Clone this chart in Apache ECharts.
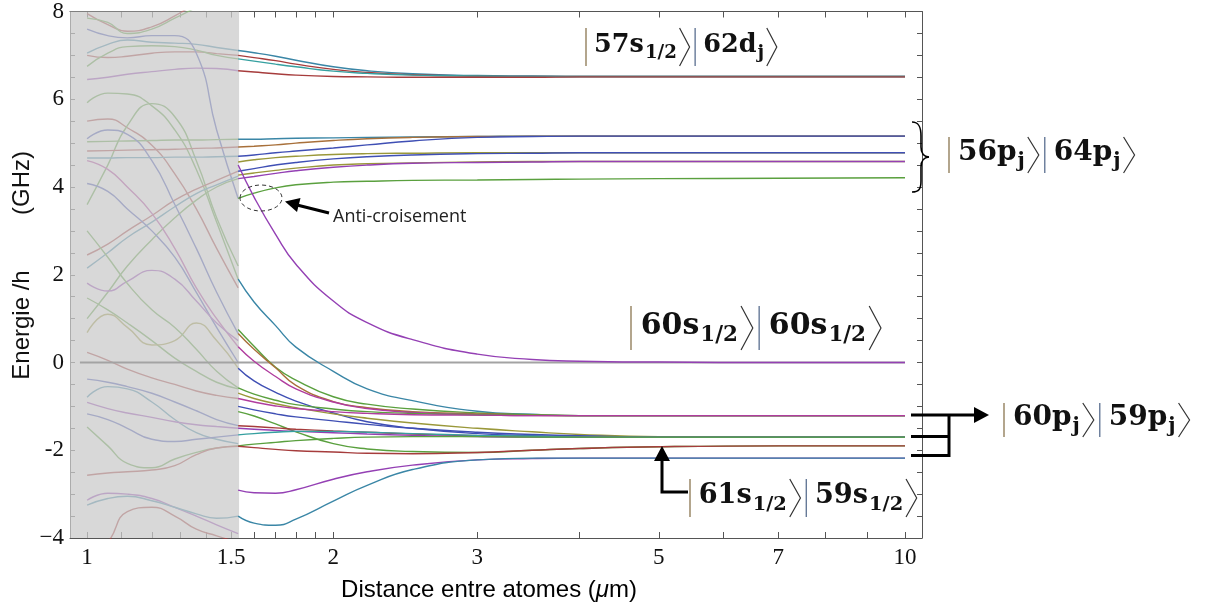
<!DOCTYPE html>
<html><head><meta charset="utf-8">
<script src="https://cdn.jsdelivr.net/npm/echarts@6/dist/echarts.min.js"></script>
<style>html,body{margin:0;padding:0;background:#fff}#c{width:1208px;height:608px}</style>
</head><body><div id="c"></div>
<script>
// ---------- DATA ----------
const xMin = 0.953, xMax = 10.49;            // µm (axis extent, log scale)
const shadedUpTo = 1.534;                    // grey zone limit (µm)
const xTickValues = [1, 1.5, 2, 3, 5, 7, 10];
const xTickLabels = ['1', '1.5', '2', '3', '5', '7', '10'];
const xMinorTicks = [1, 1.1, 1.2, 1.3, 1.4, 1.5, 1.6, 1.7, 1.8, 1.9, 2, 3, 4, 5, 6, 7, 8, 9, 10];
const yTickValues = [-4, -2, 0, 2, 4, 6, 8];
const yTickLabels = ['\u22124', '-2', '0', '2', '4', '6', '8'];

// white zone: common abscissae (µm)
const distances = [1.53, 1.6, 1.7, 1.8, 2.0, 2.2, 2.5, 3.0, 3.5, 4.0, 5.0, 7.0, 10.0];

// |57s1/2>|62dj> manifold (GHz)
const curves57s62d = [
  [7.11, 7.06, 6.98, 6.89, 6.74, 6.65, 6.58, 6.54, 6.53, 6.52, 6.52, 6.52, 6.52],
  [7.00, 6.95, 6.88, 6.80, 6.68, 6.61, 6.56, 6.53, 6.52, 6.52, 6.52, 6.52, 6.52],
  [6.92, 6.87, 6.80, 6.74, 6.64, 6.59, 6.55, 6.53, 6.52, 6.52, 6.52, 6.52, 6.52],
  [6.65, 6.62, 6.58, 6.55, 6.52, 6.51, 6.50, 6.50, 6.50, 6.51, 6.51, 6.51, 6.51]
];
// |56pj>|64pj> manifold
const curves56p64p = [
  [5.09, 5.09, 5.10, 5.11, 5.12, 5.13, 5.14, 5.15, 5.16, 5.16, 5.16, 5.16, 5.16],
  [4.91, 4.93, 4.96, 5.00, 5.06, 5.10, 5.13, 5.15, 5.16, 5.16, 5.16, 5.16, 5.16],
  [4.70, 4.73, 4.78, 4.82, 4.89, 4.96, 5.05, 5.13, 5.15, 5.16, 5.16, 5.16, 5.16],
  [4.57, 4.62, 4.67, 4.70, 4.74, 4.76, 4.77, 4.78, 4.78, 4.78, 4.78, 4.78, 4.78],
  [4.36, 4.42, 4.50, 4.56, 4.64, 4.69, 4.73, 4.76, 4.77, 4.78, 4.78, 4.78, 4.78],
  [4.27, 4.32, 4.38, 4.43, 4.50, 4.53, 4.55, 4.57, 4.58, 4.58, 4.58, 4.58, 4.58],
  [4.19, 4.24, 4.31, 4.37, 4.45, 4.50, 4.54, 4.56, 4.57, 4.58, 4.58, 4.58, 4.58],
  [3.74, 3.86, 3.98, 4.05, 4.11, 4.13, 4.15, 4.16, 4.17, 4.18, 4.19, 4.20, 4.21]
];
// |60s1/2>|60s1/2>
const curve60s60s = [4.50, 3.77, 2.92, 2.24, 1.40, 0.91, 0.52, 0.19, 0.07, 0.03, 0.01, 0.00, 0.00];
// |60pj>|59pj> manifold
const curves60p59p = [
  [1.90, 1.38, 0.84, 0.35, -0.20, -0.60, -0.87, -1.11, -1.18, -1.21, -1.21, -1.21, -1.21],
  [0.75, 0.37, -0.11, -0.40, -0.78, -0.95, -1.06, -1.15, -1.19, -1.21, -1.21, -1.21, -1.21],
  [0.66, 0.30, -0.12, -0.52, -0.89, -1.03, -1.12, -1.17, -1.20, -1.21, -1.21, -1.21, -1.21],
  [0.36, 0.03, -0.32, -0.60, -0.90, -1.05, -1.14, -1.19, -1.21, -1.21, -1.21, -1.21, -1.21],
  [-0.13, -0.42, -0.68, -0.88, -1.15, -1.35, -1.50, -1.62, -1.67, -1.69, -1.70, -1.70, -1.70],
  [-0.58, -0.72, -0.86, -0.96, -1.06, -1.12, -1.16, -1.19, -1.20, -1.21, -1.21, -1.21, -1.21],
  [-0.70, -0.82, -0.94, -1.03, -1.17, -1.27, -1.38, -1.50, -1.58, -1.64, -1.69, -1.70, -1.70],
  [-0.82, -0.90, -0.99, -1.05, -1.12, -1.16, -1.19, -1.20, -1.21, -1.21, -1.21, -1.21, -1.21],
  [-1.00, -1.08, -1.17, -1.24, -1.33, -1.41, -1.50, -1.59, -1.64, -1.67, -1.70, -1.70, -1.70],
  [-1.12, -1.22, -1.40, -1.58, -1.85, -1.97, -2.03, -2.05, -2.00, -1.96, -1.92, -1.90, -1.90],
  [-1.44, -1.46, -1.49, -1.52, -1.56, -1.59, -1.63, -1.67, -1.69, -1.70, -1.70, -1.70, -1.70],
  [-1.50, -1.52, -1.55, -1.57, -1.60, -1.63, -1.66, -1.69, -1.70, -1.70, -1.70, -1.70, -1.70],
  [-1.65, -1.62, -1.59, -1.57, -1.57, -1.59, -1.62, -1.66, -1.68, -1.70, -1.70, -1.70, -1.70],
  [-1.90, -1.86, -1.82, -1.78, -1.73, -1.70, -1.69, -1.69, -1.70, -1.70, -1.70, -1.70, -1.70],
  [-1.91, -1.94, -1.98, -2.01, -2.04, -2.07, -2.08, -2.05, -2.00, -1.96, -1.92, -1.90, -1.90]
];
// |61s1/2>|59s1/2>
const curves61s59s = [
  [-2.91, -2.97, -2.98, -2.90, -2.66, -2.49, -2.34, -2.22, -2.19, -2.18, -2.18, -2.18, -2.18],
  [-3.50, -3.66, -3.71, -3.57, -3.16, -2.80, -2.44, -2.22, -2.18, -2.18, -2.18, -2.18, -2.18]
];

// grey zone (short distances)
const grayDistances = [1.0, 1.06, 1.12, 1.2, 1.28, 1.36, 1.44, 1.53];
const grayCurves = [
  [6.45, 6.50, 6.57, 6.63, 6.68, 6.71, 6.70, 6.65],
  [7.05, 7.25, 7.35, 7.30, 7.28, 7.25, 7.18, 7.11],
  [7.00, 6.95, 6.98, 7.05, 7.08, 7.08, 7.04, 7.00],
  [6.75, 7.05, 7.20, 7.22, 7.20, 7.12, 7.00, 6.92],
  [7.95, 7.70, 7.55, 7.65, 7.90, 8.20, 8.50, 8.80],
  [7.85, 7.75, 7.50, 7.60, 7.85, 8.10, 8.40, 8.70],
  [7.60, 7.45, 7.40, 7.45, 7.45, 7.05, 5.30, 3.74],
  [5.92, 6.14, 6.12, 5.85, 5.30, 4.40, 3.20, 1.90],
  [5.50, 5.55, 5.35, 4.95, 4.30, 3.50, 2.60, 1.70],
  [3.60, 4.50, 5.40, 5.90, 5.60, 4.60, 3.30, 2.20],
  [5.03, 5.04, 5.05, 5.06, 5.07, 5.07, 5.08, 5.09],
  [4.82, 4.83, 4.84, 4.85, 4.86, 4.88, 4.89, 4.91],
  [4.66, 4.66, 4.67, 4.67, 4.68, 4.68, 4.69, 4.70],
  [2.45, 2.70, 3.00, 3.35, 3.70, 3.95, 4.15, 4.36],
  [2.15, 2.50, 2.85, 3.20, 3.55, 3.85, 4.05, 4.25],
  [1.00, 1.60, 2.20, 2.80, 3.30, 3.70, 4.00, 4.19],
  [4.08, 3.90, 3.50, 3.00, 2.40, 1.60, 0.80, 0.00],
  [4.60, 4.40, 4.00, 3.40, 2.60, 1.70, 1.00, 0.36],
  [5.10, 5.30, 5.20, 4.60, 3.60, 2.60, 1.60, 0.66],
  [1.81, 1.63, 1.85, 2.10, 1.90, 1.40, 0.90, 0.50],
  [1.47, 1.20, 0.90, 0.50, 0.10, -0.20, -0.45, -0.60],
  [0.68, 1.10, 0.80, 0.40, 0.50, 0.90, 0.50, -0.13],
  [0.23, 0.05, -0.15, -0.35, -0.50, -0.65, -0.75, -0.82],
  [-0.38, -0.45, -0.55, -0.70, -0.90, -1.10, -1.30, -1.44],
  [-0.79, -0.55, -0.60, -0.90, -1.30, -1.60, -1.75, -1.85],
  [-0.91, -1.05, -1.15, -1.25, -1.35, -1.42, -1.46, -1.50],
  [-1.17, -1.30, -1.50, -1.75, -1.80, -1.75, -1.70, -1.65],
  [-1.47, -1.90, -2.30, -2.40, -2.20, -2.05, -1.95, -1.90],
  [-2.57, -2.52, -2.49, -2.45, -2.35, -2.10, -1.95, -1.91],
  [-3.14, -2.98, -3.00, -3.10, -3.30, -3.50, -3.70, -3.90],
  [-3.25, -3.10, -3.05, -3.15, -3.30, -3.45, -3.55, -3.50],
  [-4.50, -4.10, -3.40, -3.30, -3.50, -3.80, -3.95, -4.10],
  [3.00, 2.40, 1.80, 1.20, 0.80, 0.30, -0.20, -0.58]
];
const zeroLine = [0.98, 10];

// state labels (text pieces)
const ket57s62d = [['57s', '1/2'], ['62d', 'j']];
const ket56p64p = [['56p', 'j'], ['64p', 'j']];
const ket60s60s = [['60s', '1/2'], ['60s', '1/2']];
const ket60p59p = [['60p', 'j'], ['59p', 'j']];
const ket61s59s = [['61s', '1/2'], ['59s', '1/2']];

// ---------- STYLES ----------
const C = {teal:'#3a86a6', red:'#a63c3c', green:'#5aa03e', purple:'#9440b4', blue:'#3f4fb4',
           olive:'#9a983a', brown:'#a8703a', magenta:'#b03c9e', cyan:'#36a0a0'};
const colors57s62d = [C.teal, C.red, C.cyan, C.red];
const colors56p64p = [C.teal, C.brown, C.blue, C.olive, C.blue, C.olive, C.purple, C.green];
const color60s60s = C.purple;
const colors60p59p = [C.teal, C.green, C.brown, C.magenta, C.blue, C.green, C.olive, C.magenta,
                      C.blue, C.green, C.red, C.purple, C.cyan, C.green, C.red];
const colors61s59s = [C.purple, C.teal];
const grayColors = [C.purple, C.teal, C.red, C.green, C.red, C.green, C.blue, C.green, C.red, C.green,
  C.green, C.red, C.teal, C.red, C.teal, C.green, C.blue, C.magenta, C.blue, C.purple, C.green,
  C.olive, C.red, C.blue, C.teal, C.purple, C.blue, C.green, C.red, C.purple, C.teal, C.red, C.green];

const L = Math.log10;
function pts(xs, ys) { const out = []; xs.forEach((x, i) => { if (ys[i] != null) out.push([L(x), ys[i]]); }); return out; }
function lineS(xs, ys, color, z, w) {
  return {type:'line', data: pts(xs, ys), symbol:'none', smooth:0.5, clip:true, silent:true,
          animation:false, z: z, lineStyle:{color: color, width: w || 1.4}};
}

const series = [];
grayCurves.forEach((c, i) => series.push(lineS(grayDistances, c, grayColors[i], 1, 1.4)));
series.push({type:'line', data:[], silent:true, z:3, animation:false,
  markArea:{silent:true, z:3, itemStyle:{color:'rgba(203,203,203,0.74)'},
    data:[[{xAxis: L(xMin)}, {xAxis: L(shadedUpTo)}]]}});
series.push(lineS(zeroLine, [0, 0], '#a3a3a3', 4, 2));
curves57s62d.forEach((c, i) => series.push(lineS(distances, c, colors57s62d[i], 5)));
curves56p64p.forEach((c, i) => series.push(lineS(distances, c, colors56p64p[i], 5)));
series.push(lineS(distances, curve60s60s, color60s60s, 5));
curves60p59p.forEach((c, i) => series.push(lineS(distances, c, colors60p59p[i], 5)));
curves61s59s.forEach((c, i) => series.push(lineS(distances, c, colors61s59s[i], 5)));

function xLabel(v) {
  let best = 0, d = 1e9;
  xTickValues.forEach((t, i) => { const dd = Math.abs(L(t) - v); if (dd < d) { d = dd; best = i; } });
  return xTickLabels[best];
}
function yLabel(v) {
  const i = yTickValues.findIndex(t => Math.abs(t - v) < 1e-6);
  return i >= 0 ? yTickLabels[i] : '';
}
const frame = {show:true, onZero:false, lineStyle:{color:'#555', width:1}};
const xTicks = {show:true, inside:true, length:6, customValues: xMinorTicks.map(L), lineStyle:{color:'#555'}};
const yTicks = {show:true, inside:true, length:5, lineStyle:{color:'#555'}};

// ----- bra-ket labels built from text pieces + thin strokes -----
const mctx = document.createElement('canvas').getContext('2d');
function tw(text, size) { mctx.font = 'bold ' + size + 'px "DejaVu Serif"'; return mctx.measureText(text).width; }
const barColors = ['#8a7650', '#5a6f90'];
function ket(pieces, x0, yc, half, s) {
  const els = []; let x = x0;
  const fMain = 28 * s, fSub = 20 * s;
  pieces.forEach((p, k) => {
    els.push({type:'line', silent:true, z:100, shape:{x1:x + 1, y1:yc - half, x2:x + 1, y2:yc + half},
              style:{stroke:barColors[k], lineWidth:1.3}});
    x += 10 * s;
    els.push({type:'text', silent:true, z:100, x:x, y:yc - 2 * s,
              style:{text:p[0], fontFamily:'DejaVu Serif', fontWeight:'bold', fontSize:fMain, fill:'#111',
                     textAlign:'left', textVerticalAlign:'middle'}});
    x += tw(p[0], fMain) + 1;
    els.push({type:'text', silent:true, z:100, x:x, y:yc + 7 * s,
              style:{text:p[1], fontFamily:'DejaVu Serif', fontWeight:'bold', fontSize:fSub, fill:'#111',
                     textAlign:'left', textVerticalAlign:'middle'}});
    x += tw(p[1], fSub) + 3 * s;
    els.push({type:'polyline', silent:true, z:100,
              shape:{points:[[x, yc - half], [x + 11 * s, yc], [x, yc + half]]},
              style:{stroke:'#333', lineWidth:1.2, fill:'none'}});
    x += 16 * s;
  });
  return els;
}
function bez(x1, y1, cpx1, cpy1, cpx2, cpy2, x2, y2) {
  return {type:'bezierCurve', silent:true, z:100,
    shape:{x1:x1, y1:y1, cpx1:cpx1, cpy1:cpy1, cpx2:cpx2, cpy2:cpy2, x2:x2, y2:y2},
    style:{fill:'none', stroke:'#000', lineWidth:1.6}};
}
function seg(points, w) {
  return {type:'polyline', silent:true, z:100, shape:{points:points}, style:{stroke:'#000', lineWidth:w, fill:'none'}};
}

const graphics = [
  {type:'text', x:22, y:325, rotation:Math.PI/2, silent:true,
   style:{text:'Energie /h', fontFamily:'Liberation Sans', fontSize:24, fill:'#111',
          textAlign:'center', textVerticalAlign:'middle'}},
  {type:'text', x:22, y:183, rotation:Math.PI/2, silent:true,
   style:{text:'(GHz)', fontFamily:'Liberation Sans', fontSize:24, fill:'#111',
          textAlign:'center', textVerticalAlign:'middle'}},
  {type:'text', x:489, y:590, silent:true,
   style:{text:'{t|Distance entre atomes (}{m|\u03BC}{t|m)}', textAlign:'center', textVerticalAlign:'middle',
          rich:{t:{fontFamily:'Liberation Sans', fontSize:24, color:'#111'},
                m:{fontFamily:'Liberation Sans', fontStyle:'italic', fontSize:24, color:'#111'}}}},
  {type:'text', x:333, y:217, silent:true,
   style:{text:'Anti-croisement', fontFamily:'Open Sans', fontSize:18, fill:'#222',
          textAlign:'left', textVerticalAlign:'middle'}},
  {type:'ellipse', silent:true, z:100, shape:{cx:261, cy:198, rx:21, ry:13},
   style:{fill:'none', stroke:'#333', lineWidth:1, lineDash:[4, 3]}},
  {type:'line', silent:true, z:100, shape:{x1:329, y1:213, x2:297, y2:205}, style:{stroke:'#000', lineWidth:3}},
  {type:'polygon', silent:true, z:100, shape:{points:[[285, 201.5], [300.5, 198], [297, 212]]}, style:{fill:'#000'}},
  bez(912, 122, 919, 122, 921, 127, 921, 136),
  seg([[921, 136], [921, 147]], 1.6),
  bez(921, 147, 921, 153, 923, 156.5, 929, 157),
  bez(929, 157, 923, 157.5, 921, 161, 921, 167),
  seg([[921, 167], [921, 181]], 1.6),
  bez(921, 181, 921, 189, 919, 192, 912, 192),
  seg([[911, 415], [976, 415]], 3),
  {type:'polygon', silent:true, z:100, shape:{points:[[974, 407], [974, 423], [989, 415]]}, style:{fill:'#000'}},
  seg([[949, 414], [949, 457]], 3),
  seg([[911, 436.5], [949, 436.5]], 3),
  seg([[911, 455.5], [950, 455.5]], 3),
  seg([[688, 492], [662, 492], [662, 458]], 3),
  {type:'polygon', silent:true, z:100, shape:{points:[[654, 461], [670, 461], [662, 446]]}, style:{fill:'#000'}}
].concat(
  ket(ket57s62d, 585, 47, 19, 0.91),
  ket(ket56p64p, 948, 155, 18, 1.0),
  ket(ket60s60s, 630, 328, 22, 1.07),
  ket(ket60p59p, 1003, 420, 17, 1.0),
  ket(ket61s59s, 689, 498, 19, 0.97)
);

const chart = echarts.init(document.getElementById('c'), null, {renderer:'canvas'});
chart.setOption({
  animation:false,
  backgroundColor:'#ffffff',
  grid:{left:70, right:286, top:9, bottom:70},
  xAxis:[
    {type:'value', min:L(xMin), max:L(xMax), position:'bottom', axisLine:frame, axisTick:xTicks,
     splitLine:{show:false},
     axisLabel:{customValues: xTickValues.map(L), formatter: xLabel, fontFamily:'Liberation Serif',
                fontSize:23, color:'#111', margin:8}},
    {type:'value', min:L(xMin), max:L(xMax), position:'top', axisLine:frame, axisTick:xTicks,
     splitLine:{show:false}, axisLabel:{show:false}}
  ],
  yAxis:[
    {type:'value', min:-4, max:8, interval:0.5, position:'left', axisLine:frame, axisTick:yTicks,
     splitLine:{show:false},
     axisLabel:{formatter: yLabel, fontFamily:'Liberation Serif', fontSize:23, color:'#111', margin:6}},
    {type:'value', min:-4, max:8, interval:0.5, position:'right', axisLine:frame, axisTick:yTicks,
     splitLine:{show:false}, axisLabel:{show:false}}
  ],
  series: series,
  graphic: graphics
});
</script></body></html>
